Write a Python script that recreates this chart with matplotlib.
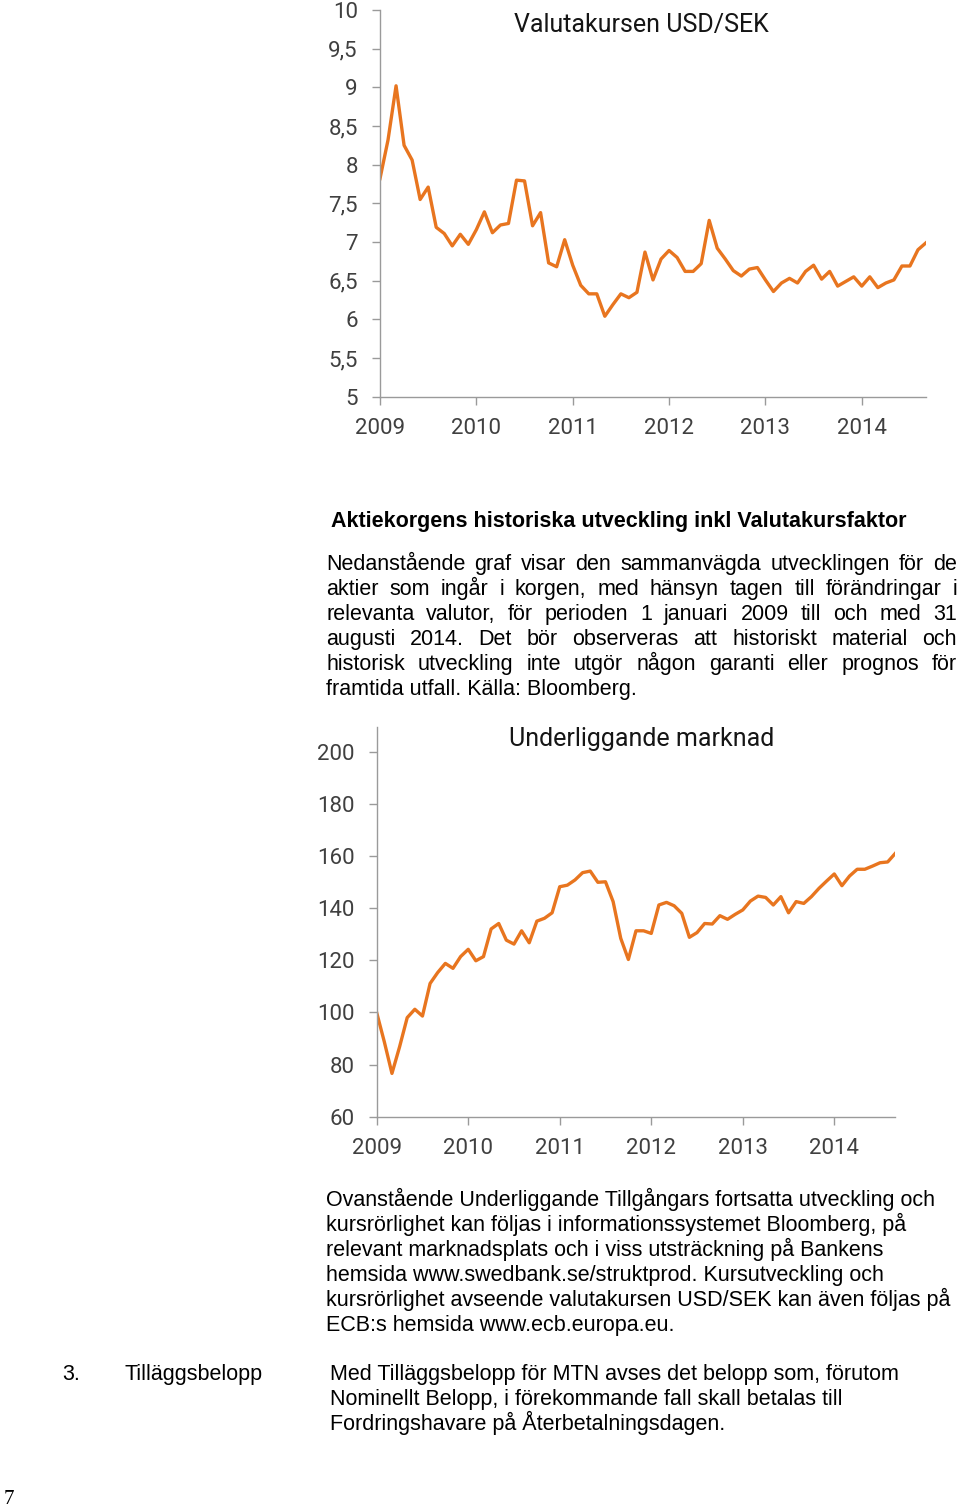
import numpy as np
import matplotlib
matplotlib.use("Agg")
import matplotlib.pyplot as plt

# monthly values, Jan 2009 - Sep 2014
usdsek = [
    7.82, 8.32, 9.02, 8.25, 8.06, 7.55, 7.71, 7.19, 7.11, 6.95, 7.10, 6.97,
    7.16, 7.39, 7.12, 7.22, 7.24, 7.80, 7.79, 7.21, 7.38, 6.73, 6.68, 7.03,
    6.70, 6.44, 6.33, 6.33, 6.04, 6.19, 6.33, 6.28, 6.35, 6.87, 6.51, 6.78,
    6.89, 6.80, 6.62, 6.62, 6.72, 7.28, 6.92, 6.78, 6.63, 6.56, 6.65, 6.67,
    6.51, 6.36, 6.47, 6.53, 6.47, 6.62, 6.70, 6.52, 6.62, 6.43, 6.49, 6.55,
    6.43, 6.55, 6.41, 6.47, 6.51, 6.69, 6.69, 6.90, 6.99,
]
market = [
    99.9, 88.7, 76.6, 86.8, 98.0, 101.2, 98.6, 111.1, 115.3, 118.8, 116.9, 121.4,
    124.2, 119.8, 121.4, 132.0, 134.1, 127.7, 126.2, 131.3, 126.7, 135.0, 136.1, 138.2,
    148.2, 148.8, 150.8, 153.6, 154.2, 149.9, 150.1, 142.5, 128.4, 120.3, 131.3, 131.3,
    130.3, 141.2, 142.2, 140.9, 138.0, 128.8, 130.6, 134.1, 133.9, 137.1, 135.7, 137.6,
    139.3, 142.7, 144.6, 144.1, 141.2, 144.4, 138.2, 142.5, 141.8, 144.4, 147.6, 150.4,
    153.1, 148.6, 152.3, 154.9, 154.9, 156.1, 157.4, 157.7, 161.0,
]
years = ["2009", "2010", "2011", "2012", "2013", "2014"]
usd_ticks = [5, 5.5, 6, 6.5, 7, 7.5, 8, 8.5, 9, 9.5, 10]
usd_labels = ["5", "5,5", "6", "6,5", "7", "7,5", "8", "8,5", "9", "9,5", "10"]
market_ticks = [60, 80, 100, 120, 140, 160, 180, 200]

para1 = [
    "Nedanstående graf visar den sammanvägda utvecklingen för de",
    "aktier som ingår i korgen, med hänsyn tagen till förändringar i",
    "relevanta valutor, för perioden 1 januari 2009 till och med 31",
    "augusti 2014. Det bör observeras att historiskt material och",
    "historisk utveckling inte utgör någon garanti eller prognos för",
    "framtida utfall. Källa: Bloomberg.",
]
para2 = [
    "Ovanstående Underliggande Tillgångars fortsatta utveckling och",
    "kursrörlighet kan följas i informationssystemet Bloomberg, på",
    "relevant marknadsplats och i viss utsträckning på Bankens",
    "hemsida www.swedbank.se/struktprod. Kursutveckling och",
    "kursrörlighet avseende valutakursen USD/SEK kan även följas på",
    "ECB:s hemsida www.ecb.europa.eu.",
]
para3 = [
    "Med Tilläggsbelopp för MTN avses det belopp som, förutom",
    "Nominellt Belopp, i förekommande fall skall betalas till",
    "Fordringshavare på Återbetalningsdagen.",
]

W, H = 960, 1506
ORANGE = "#E8751F"
CHART_FONT = "Roboto"
BODY_FONT = "Liberation Sans"

fig = plt.figure(figsize=(W / 100, H / 100), dpi=100)


def px_axes(left, top, right, bottom):
    return fig.add_axes([left / W, 1 - bottom / H, (right - left) / W, (bottom - top) / H])


def style(ax):
    for s in ["top", "right"]:
        ax.spines[s].set_visible(False)
    for s in ["left", "bottom"]:
        ax.spines[s].set_color("#9a9a9a")
        ax.spines[s].set_linewidth(1)
    ax.tick_params(direction="out", length=6, width=1, color="#9a9a9a",
                   labelcolor="#404040", labelsize=16)
    ax.tick_params(axis="y", pad=10)
    ax.tick_params(axis="x", pad=9)
    for lab in ax.get_xticklabels() + ax.get_yticklabels():
        lab.set_family(CHART_FONT)


# USD/SEK chart
ax1 = px_axes(380, 10, 926, 396.7)
t1 = np.arange(len(usdsek)) / 12
ax1.plot(t1, usdsek, color=ORANGE, lw=2.4)
ax1.set_xlim(0, t1[-1])
ax1.set_ylim(5, 10)
ax1.set_xticks(range(len(years)))
ax1.set_xticklabels(years)
ax1.set_yticks(usd_ticks)
ax1.set_yticklabels(usd_labels)
style(ax1)

# underlying market chart
ax2 = px_axes(376.7, 726.9, 895.3, 1116.7)
t2 = np.arange(len(market)) / 12
ax2.plot(t2, market, color=ORANGE, lw=2.4)
ax2.set_xlim(0, t2[-1])
ax2.set_ylim(60, 209.5)
ax2.set_xticks(range(len(years)))
ax2.set_xticklabels(years)
ax2.set_yticks(market_ticks)
style(ax2)


def ftext(x, y, s, **kw):
    return fig.text(x / W, 1 - y / H, s, **kw)


ftext(514, 32, "Valutakursen USD/SEK", fontsize=18, family=CHART_FONT,
      color="#151515", va="baseline")
ftext(509, 746, "Underliggande marknad", fontsize=18, family=CHART_FONT,
      color="#151515", va="baseline")

body = dict(fontsize=15.5, family=BODY_FONT, color="black", va="baseline")

ftext(331, 527, "Aktiekorgens historiska utveckling inkl Valutakursfaktor",
      fontweight="bold", **body)

# justified paragraph
renderer = fig.canvas.get_renderer()
x0, x1 = 326, 957
for i, line in enumerate(para1):
    y = 570 + i * 25
    if i == len(para1) - 1:
        ftext(x0, y, line, **body)
        continue
    words = line.split()
    arts = [ftext(0, y, w, **body) for w in words]
    widths = [a.get_window_extent(renderer).width for a in arts]
    gap = (x1 - x0 - sum(widths)) / (len(words) - 1)
    x = x0
    for a, w in zip(arts, widths):
        a.set_x(x / W)
        x += w + gap

for i, line in enumerate(para2):
    ftext(326, 1206 + i * 25, line, **body)

ftext(62, 1380, "3.", **body)
ftext(124, 1380, "Tilläggsbelopp", **body)
for i, line in enumerate(para3):
    ftext(330, 1380 + i * 25, line, **body)

ftext(4, 1504, "7", fontsize=15, family="Liberation Serif", va="baseline")

fig.savefig("out.png", dpi=100)
